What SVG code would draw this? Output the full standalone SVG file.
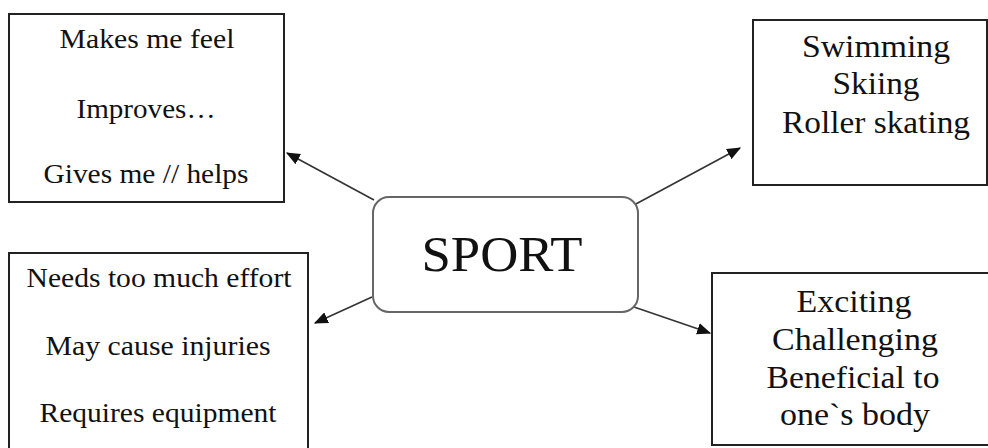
<svg xmlns="http://www.w3.org/2000/svg" width="988" height="448" viewBox="0 0 988 448">
<defs>
<style>
.box{fill:#fff;stroke:#222;stroke-width:2}
.center{fill:#fff;stroke:#666;stroke-width:2}
.arr{stroke:#333;stroke-width:1.6;fill:none}
</style>
<marker id="ah" viewBox="0 0 12 10" refX="11" refY="5" markerWidth="14" markerHeight="12" markerUnits="userSpaceOnUse" orient="auto">
<path d="M0,0 L12,5 L0,10 z" fill="#111"/>
</marker>
</defs>
<rect width="988" height="448" fill="#fff"/>
<g id="connectors">
<line class="arr" marker-end="url(#ah)" x1="374" y1="200" x2="287" y2="153"/>
<line class="arr" marker-end="url(#ah)" x1="634" y1="205" x2="740" y2="148"/>
<line class="arr" marker-end="url(#ah)" x1="372" y1="297" x2="315" y2="323"/>
<line class="arr" marker-end="url(#ah)" x1="634" y1="307" x2="710" y2="333"/>
</g>
<g font-family="'Liberation Serif', 'DejaVu Serif', 'Noto Serif', Times, serif" fill="#111" text-anchor="middle">
<g id="sport">
<rect class="center" x="373" y="197" width="265" height="115" rx="16"/>
<text x="502" y="271" font-size="51" textLength="161" lengthAdjust="spacingAndGlyphs">SPORT</text>
</g>
<g id="top-left" font-size="27">
<rect class="box" x="9" y="14" width="275" height="188"/>
<text x="147" y="48" textLength="175" lengthAdjust="spacingAndGlyphs">Makes me feel</text>
<text x="146" y="118" textLength="139" lengthAdjust="spacingAndGlyphs">Improves…</text>
<text x="146" y="183" textLength="205" lengthAdjust="spacingAndGlyphs">Gives me // helps</text>
</g>
<g id="top-right" font-size="31">
<rect class="box" x="753" y="20" width="234" height="165"/>
<text x="876" y="57" textLength="148" lengthAdjust="spacingAndGlyphs">Swimming</text>
<text x="876" y="94" textLength="87" lengthAdjust="spacingAndGlyphs">Skiing</text>
<text x="876" y="133" textLength="188" lengthAdjust="spacingAndGlyphs">Roller skating</text>
</g>
<g id="bottom-left" font-size="27">
<rect class="box" x="9" y="253" width="299" height="200"/>
<text x="159" y="287" textLength="265" lengthAdjust="spacingAndGlyphs">Needs too much effort</text>
<text x="158" y="355" textLength="225" lengthAdjust="spacingAndGlyphs">May cause injuries</text>
<text x="158" y="422" textLength="237" lengthAdjust="spacingAndGlyphs">Requires equipment</text>
</g>
<g id="bottom-right" font-size="31">
<rect class="box" x="712" y="273" width="280" height="172"/>
<text x="854" y="312" textLength="115" lengthAdjust="spacingAndGlyphs">Exciting</text>
<text x="855" y="350" textLength="166" lengthAdjust="spacingAndGlyphs">Challenging</text>
<text x="853" y="388" textLength="173" lengthAdjust="spacingAndGlyphs">Beneficial to</text>
<text x="855" y="425" textLength="150" lengthAdjust="spacingAndGlyphs">one`s body</text>
</g>
</g>
</svg>
